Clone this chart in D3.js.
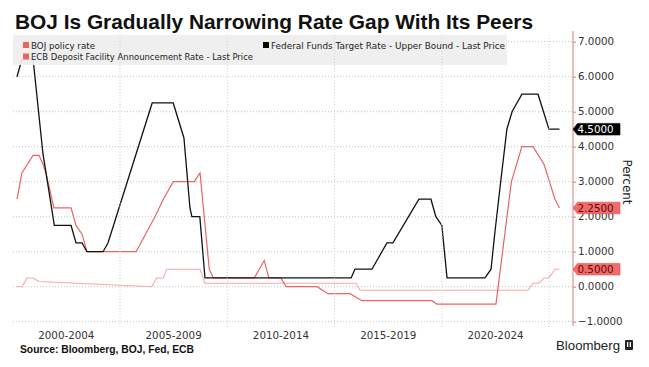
<!DOCTYPE html>
<html><head><meta charset="utf-8">
<script src="https://cdn.jsdelivr.net/npm/d3@7"></script>
<style>html,body{margin:0;padding:0;background:#fff;}svg{display:block;}</style>
</head><body>
<script>
// ---- data ----
const fedYears = [2000.20,2000.43,2000.95,2001.41,2001.94,2002.72,2002.95,2003.23,2003.46,2004.21,2004.44,2006.50,2007.48,2007.98,2008.26,2008.35,2008.72,2008.96,2015.77,2015.95,2016.74,2017.44,2017.72,2018.93,2019.49,2019.72,2020.00,2020.24,2022.01,2022.29,2022.47,2022.75,2023.03,2023.27,2023.73,2024.48,2024.99,2025.48];
const fedRates = [6.0,6.5,6.5,3.8,1.75,1.75,1.25,1.25,1.0,1.0,1.25,5.25,5.25,4.25,2.25,2.0,2.0,0.25,0.25,0.5,0.5,1.25,1.25,2.5,2.5,2.0,1.75,0.25,0.25,0.5,1.55,3.05,4.5,5.0,5.5,5.5,4.5,4.5];

const ecbYears = [2000.20,2000.43,2000.95,2001.23,2001.41,2001.55,2001.92,2002.72,2002.95,2003.23,2003.46,2005.75,2006.63,2007.02,2007.48,2008.46,2008.73,2009.16,2009.35,2011.26,2011.72,2011.94,2012.50,2012.74,2014.18,2014.69,2015.72,2016.27,2019.54,2019.77,2022.52,2023.24,2023.73,2024.25,2024.76,2025.27,2025.48];
const ecbRates = [2.5,3.25,3.75,3.75,3.5,3.25,2.25,2.25,1.75,1.5,1.0,1.0,2.0,2.5,3.0,3.0,3.25,0.5,0.25,0.25,0.75,0.25,0.25,0.0,0.0,-0.2,-0.2,-0.4,-0.4,-0.5,-0.5,3.0,4.0,4.0,3.5,2.5,2.25];

const bojYears = [2000.20,2000.43,2000.67,2000.95,2001.23,2006.48,2006.71,2007.02,2007.18,2008.73,2008.96,2016.00,2016.19,2024.01,2024.24,2024.52,2024.76,2024.99,2025.27,2025.48];
const bojRates = [0.0,0.0,0.25,0.25,0.15,0.0,0.25,0.25,0.5,0.5,0.1,0.1,-0.1,-0.1,0.1,0.1,0.25,0.25,0.5,0.5];

const yTicks = [7,6,5,4,3,2,1,0,-1];
const gridYears = [2005,2010,2015,2020,2025];
const periodStarts = [2000,2005,2010,2015,2020];
const periodLabels = ["2000-2004","2005-2009","2010-2014","2015-2019","2020-2024"];
const lastValues = [4.5, 2.25, 0.5];
const legendNames = ["BOJ policy rate","ECB Deposit Facility Announcement Rate - Last Price","Federal Funds Target Rate - Upper Bound - Last Price"];

// ---- drawing ----
const W = 649, H = 367;
const svg = d3.select("body").append("svg").attr("width", W).attr("height", H);
const x = d3.scaleLinear().domain([2000, 2025.5]).range([12.7, 559.9]);
const y = d3.scaleLinear().domain([-1, 7]).range([321.7, 41.7]);
const axisX = 573;

const C_FED = "#111111", C_ECB = "#ea6464", C_BOJ = "#f3a9a9";
const AX = "DejaVu Sans, Verdana, sans-serif";

// title
svg.append("text").attr("x", 15).attr("y", 28.5)
  .attr("font-family", "Liberation Sans, Arial, sans-serif").attr("font-weight", "bold")
  .attr("font-size", 21).attr("fill", "#111")
  .attr("textLength", 518).attr("lengthAdjust", "spacingAndGlyphs")
  .text("BOJ Is Gradually Narrowing Rate Gap With Its Peers");

// horizontal gridlines
svg.append("g").selectAll("line").data(yTicks).join("line")
  .attr("x1", 13).attr("x2", axisX).attr("y1", d => y(d)).attr("y2", d => y(d))
  .attr("stroke", "#c4c4c4").attr("stroke-width", 1).attr("stroke-dasharray", "1,2");

// lines
function series(xs, vs) { return xs.map((t, i) => [t, vs[i]]); }
const line = d3.line().x(d => x(d[0])).y(d => y(d[1]));
svg.append("path").datum(series(bojYears, bojRates)).attr("d", line)
  .attr("fill", "none").attr("stroke", C_BOJ).attr("stroke-width", 1.1);
svg.append("path").datum(series(ecbYears, ecbRates)).attr("d", line)
  .attr("fill", "none").attr("stroke", C_ECB).attr("stroke-width", 1.2);
svg.append("path").datum(series(fedYears, fedRates)).attr("d", line)
  .attr("fill", "none").attr("stroke", C_FED).attr("stroke-width", 1.3);

// legend box
svg.append("rect").attr("x", 13).attr("y", 35).attr("width", 494).attr("height", 30)
  .attr("fill", "#eeeeee").attr("fill-opacity", 0.93);

// vertical gridlines
svg.append("g").selectAll("line").data(gridYears).join("line")
  .attr("x1", d => x(d)).attr("x2", d => x(d)).attr("y1", 35).attr("y2", 329)
  .attr("stroke", "#cfcfcf").attr("stroke-width", 1).attr("stroke-dasharray", "1,2");

// legend entries
const legendItems = [
  {name: legendNames[0], color: C_ECB, x: 23, y: 48.5, w: 64},
  {name: legendNames[1], color: C_ECB, x: 23, y: 60, w: 222},
  {name: legendNames[2], color: "#000", x: 263, y: 48.5, w: 234}
];
const lg = svg.append("g").selectAll("g").data(legendItems).join("g");
lg.append("rect").attr("x", d => d.x).attr("y", d => d.y - 6.5).attr("width", 6).attr("height", 6).attr("fill", d => d.color);
lg.append("text").attr("x", d => d.x + 8).attr("y", d => d.y)
  .attr("font-family", AX).attr("font-size", 9).attr("fill", "#222")
  .attr("textLength", d => d.w).attr("lengthAdjust", "spacingAndGlyphs")
  .text(d => d.name);

// right axis
svg.append("line").attr("x1", axisX).attr("x2", axisX).attr("y1", 31).attr("y2", 326)
  .attr("stroke", "#e07a7a").attr("stroke-width", 1);
const ax = svg.append("g").attr("transform", `translate(${axisX},0)`)
  .call(d3.axisRight(y).tickValues(yTicks).tickFormat(d3.format(".4f")).tickSize(3).tickPadding(2));
ax.select(".domain").remove();
ax.selectAll(".tick line").attr("stroke", "#e07a7a");
ax.selectAll(".tick text").attr("font-family", AX).attr("font-size", 10.3).attr("fill", "#333");

// value tags
const tags = [
  {v: lastValues[0], fill: "#000", text: "#fff"},
  {v: lastValues[1], fill: "#f26a6a", text: "#5a0c0c"},
  {v: lastValues[2], fill: "#f26a6a", text: "#5a0c0c"}
];
const tg = svg.append("g").selectAll("g").data(tags).join("g");
tg.append("path").attr("d", d => {
  const c = y(d.v), h = 5.8;
  return `M${axisX},${c} L${axisX + 4.5},${c - h} L620,${c - h} L620,${c + h} L${axisX + 4.5},${c + h} Z`;
}).attr("fill", d => d.fill).attr("stroke", d => d.fill === "#000" ? "#000" : "#d85555").attr("stroke-width", 0.6);
tg.append("text").attr("x", axisX + 4.5).attr("y", d => y(d.v)).attr("dy", "0.36em")
  .attr("font-family", AX).attr("font-size", 10.3).attr("fill", d => d.text)
  .text(d => d3.format(".4f")(d.v));

// Percent label
svg.append("text").attr("transform", "translate(623,182) rotate(90)")
  .attr("text-anchor", "middle").attr("font-family", AX).attr("font-size", 12).attr("fill", "#222")
  .text("Percent");

// bottom period labels
svg.append("g").selectAll("text").data(periodLabels).join("text")
  .attr("x", (d, i) => x(periodStarts[i] + 2.5)).attr("y", 339)
  .attr("text-anchor", "middle").attr("font-family", AX).attr("font-size", 10.3).attr("fill", "#333")
  .text(d => d);

// source
svg.append("text").attr("x", 20).attr("y", 353)
  .attr("font-family", "Liberation Sans, Arial, sans-serif").attr("font-weight", "bold")
  .attr("font-size", 10.3).attr("fill", "#111")
  .attr("textLength", 174).attr("lengthAdjust", "spacingAndGlyphs")
  .text("Source: Bloomberg, BOJ, Fed, ECB");

// Bloomberg logo
svg.append("text").attr("x", 556).attr("y", 350)
  .attr("font-family", "Liberation Sans, Arial, sans-serif").attr("font-size", 13).attr("fill", "#222")
  .attr("textLength", 64).attr("lengthAdjust", "spacingAndGlyphs")
  .text("Bloomberg");
svg.append("rect").attr("x", 625).attr("y", 340).attr("width", 8).attr("height", 10).attr("rx", 1).attr("fill", "#222");
svg.append("rect").attr("x", 627).attr("y", 342).attr("width", 1.3).attr("height", 5).attr("fill", "#fff");
svg.append("rect").attr("x", 629.7).attr("y", 342).attr("width", 1.3).attr("height", 5).attr("fill", "#fff");
</script>
</body></html>
